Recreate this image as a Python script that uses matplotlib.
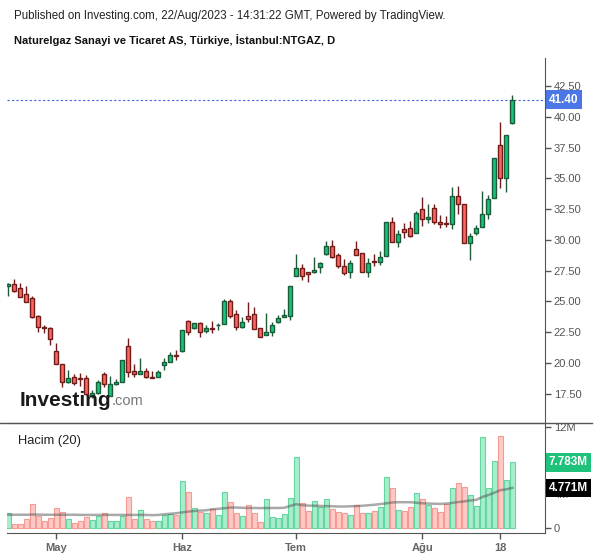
import matplotlib
matplotlib.use("Agg")
import matplotlib.pyplot as plt
from matplotlib.lines import Line2D

plt.rcParams['font.family'] = ['Liberation Sans', 'DejaVu Sans']

# daily candles, 18 Apr 2023 .. 22 Aug 2023 (trading days)
opens = [26.26, 26.42, 26.07, 25.61, 25.26, 23.82, 22.90, 22.82, 20.98, 19.89,
         18.48, 18.89, 18.76, 18.76, 17.32, 17.59, 19.08, 17.34, 18.27, 18.43,
         21.36, 19.35, 19.08, 19.35, 18.89, 18.84, 19.86, 20.08, 20.65, 20.95,
         23.39, 22.82, 23.23, 22.63, 22.82, 23.06, 23.15, 25.04, 23.96, 22.95,
         23.82, 23.98, 22.82, 22.25, 22.54, 23.31, 23.71, 23.85, 27.10, 27.70,
         27.37, 27.37, 27.83, 28.89, 29.49, 28.75, 27.91, 27.42, 29.24, 28.92,
         27.37, 28.29, 28.24, 28.72, 31.44, 29.81, 30.87, 30.95, 30.54, 32.50,
         31.68, 32.58, 31.49, 31.36, 31.28, 33.58, 32.93, 29.78, 30.59, 31.03,
         32.09, 33.39, 37.72, 35.00, 39.49]
highs = [26.53, 26.83, 26.48, 26.26, 25.45, 23.90, 23.09, 22.95, 21.65, 19.89,
         19.43, 19.11, 19.16, 19.02, 17.80, 18.62, 19.24, 18.94, 18.67, 20.24,
         22.03, 19.92, 20.38, 19.62, 19.38, 19.43, 20.38, 20.92, 21.06, 22.70,
         23.50, 23.28, 23.36, 23.09, 23.41, 23.23, 25.18, 25.18, 24.31, 23.77,
         24.96, 24.58, 22.82, 24.09, 23.36, 23.90, 24.39, 26.26, 28.86, 28.05,
         27.37, 28.59, 28.21, 29.94, 30.00, 28.92, 28.43, 28.37, 29.94, 28.92,
         28.51, 28.86, 29.11, 31.44, 31.85, 30.81, 31.36, 31.54, 32.36, 33.47,
         32.93, 32.93, 32.03, 31.95, 34.33, 34.41, 32.95, 30.54, 31.22, 33.98,
         33.66, 36.64, 39.59, 38.54, 41.79]
lows = [25.47, 25.80, 25.39, 24.95, 23.68, 22.54, 22.46, 21.46, 19.89, 18.02,
        18.35, 18.21, 18.13, 17.40, 17.15, 17.48, 18.07, 17.34, 18.21, 18.43,
        18.89, 18.84, 19.08, 18.76, 18.76, 18.84, 19.43, 20.08, 20.24, 20.90,
        22.28, 22.74, 22.14, 22.41, 22.46, 22.68, 23.15, 23.68, 22.68, 22.87,
        23.36, 22.79, 22.14, 22.25, 22.20, 23.23, 23.71, 23.50, 27.10, 26.75,
        26.61, 27.29, 27.34, 28.78, 28.51, 27.75, 27.15, 26.89, 28.75, 27.42,
        27.02, 27.91, 27.97, 28.72, 29.81, 29.46, 30.19, 30.27, 30.54, 31.16,
        31.36, 31.28, 30.95, 31.03, 30.89, 32.09, 29.78, 28.37, 30.41, 31.03,
        31.68, 33.39, 34.20, 33.93, 39.41]
closes = [26.42, 25.88, 25.39, 24.98, 23.76, 22.90, 22.82, 21.93, 19.89, 18.48,
          18.76, 18.40, 18.68, 17.48, 17.59, 18.43, 18.27, 18.27, 18.43, 20.24,
          19.24, 19.08, 19.35, 18.84, 18.81, 19.27, 20.08, 20.63, 20.57, 22.66,
          22.50, 23.23, 22.55, 22.82, 22.74, 23.11, 25.04, 23.85, 22.95, 23.31,
          23.61, 22.79, 22.14, 22.52, 23.09, 23.63, 23.90, 26.26, 27.70, 27.10,
          27.21, 27.56, 28.11, 29.49, 28.64, 27.91, 27.34, 28.11, 28.81, 27.42,
          28.11, 28.24, 28.59, 31.44, 29.81, 30.46, 30.67, 30.35, 32.17, 31.68,
          31.89, 31.44, 31.28, 31.28, 33.58, 32.90, 29.78, 30.33, 30.95, 32.09,
          33.33, 36.64, 35.00, 38.54, 41.40]
# volume in millions
volumes = [1.78, 0.55, 0.55, 1.07, 2.84, 1.42, 0.83, 1.19, 2.37, 1.89,
           1.07, 0.59, 0.83, 1.30, 0.95, 1.42, 1.78, 0.83, 0.83, 1.42,
           3.67, 1.07, 2.13, 1.07, 0.83, 0.83, 1.54, 1.66, 1.54, 5.57,
           4.27, 2.37, 1.93, 1.78, 2.25, 1.54, 4.27, 3.08, 1.78, 1.42,
           2.72, 1.78, 0.71, 3.44, 1.30, 1.19, 1.66, 3.56, 8.41, 2.96,
           2.01, 3.24, 2.49, 3.44, 2.25, 1.89, 1.78, 1.54, 2.72, 1.78,
           1.78, 2.01, 2.49, 6.04, 4.74, 2.13, 2.01, 2.49, 4.15, 3.44,
           2.72, 2.37, 1.89, 2.84, 4.74, 5.33, 4.86, 3.91, 2.61, 10.78,
           4.74, 7.94, 10.94, 5.72, 7.783]
# volume moving average (20)
vol_ma = [1.60, 1.60, 1.60, 1.60, 1.62, 1.62, 1.60, 1.60, 1.60, 1.60,
          1.60, 1.60, 1.58, 1.58, 1.58, 1.58, 1.58, 1.58, 1.58, 1.58,
          1.58, 1.58, 1.58, 1.58, 1.55, 1.58, 1.66, 1.72, 1.78, 1.88,
          1.97, 2.05, 2.09, 2.13, 2.25, 2.30, 2.37, 2.45, 2.45, 2.42,
          2.40, 2.40, 2.38, 2.40, 2.40, 2.40, 2.42, 2.65, 2.85, 2.72,
          2.68, 2.66, 2.64, 2.62, 2.60, 2.57, 2.57, 2.60, 2.62, 2.66,
          2.72, 2.78, 2.86, 2.95, 3.05, 3.08, 3.08, 3.08, 3.02, 2.95,
          2.92, 2.90, 2.88, 2.92, 3.00, 3.10, 3.18, 3.28, 3.36, 3.70,
          3.92, 4.20, 4.50, 4.60, 4.771]

tick_pos = [8, 29, 48, 69, 82]
tick_labels = ['May', 'Haz', 'Tem', 'Ağu', '18']
price_ticks = [17.5, 20.0, 22.5, 25.0, 27.5, 30.0, 32.5, 35.0, 37.5, 40.0, 42.5]
vol_ticks = [0, 4, 8, 12]
vol_tick_labels = ['0', '4M', '8M', '12M']

UP_FILL, UP_EDGE = '#17c27c', '#1c5a38'
DN_FILL, DN_EDGE = '#fa675e', '#701c1a'
VUP_FILL, VUP_EDGE = '#a8edcd', '#66d6a0'
VDN_FILL, VDN_EDGE = '#ffcac6', '#f59b94'
AXC = '#555555'

W, H = 600, 558
fig = plt.figure(figsize=(W / 100, H / 100), dpi=100)
x0, x1 = 7 / W, 545.3 / W
ax = fig.add_axes([x0, (H - 422.5) / H, x1 - x0, (422.5 - 58.3) / H])
axv = fig.add_axes([x0, (H - 533.3) / H, x1 - x0, (533.3 - 422.5) / H])

idx = list(range(len(closes)))
up = [c >= o for o, c in zip(opens, closes)]

# candles
for i in idx:
    o, h, l, c = opens[i], highs[i], lows[i], closes[i]
    edge = UP_EDGE if up[i] else DN_EDGE
    fill = UP_FILL if up[i] else DN_FILL
    ax.vlines(i, l, h, color=edge, lw=1.0, zorder=2)
    bot = min(o, c)
    hgt = max(abs(c - o), 0.06)
    ax.bar(i, hgt, bottom=bot, width=0.7, color=fill, edgecolor=edge, lw=1.0, zorder=3)

ax.set_xlim(-0.22, 89.5)
ax.set_ylim(15.16, 44.77)
ax.set_yticks(price_ticks)
ax.set_yticklabels(['%.2f' % v for v in price_ticks])
ax.yaxis.tick_right()
ax.set_xticks([])
for s in ['top', 'left', 'bottom']:
    ax.spines[s].set_visible(False)
ax.spines['right'].set_color(AXC)
ax.tick_params(axis='y', colors=AXC, labelcolor=AXC, length=4, width=1, labelsize=8, pad=2)

# last price line + label
last = closes[-1]
ax.axhline(last, color='#3d62d8', lw=0.8, ls=(0, (2, 2)), zorder=1)
ax.annotate('%.2f' % last, xy=(1.0, last), xycoords=ax.get_yaxis_transform(),
            xytext=(2.6, 0), textcoords='offset points', ha='left', va='center',
            color='white', fontweight='bold', fontsize=8.5, annotation_clip=False,
            bbox=dict(boxstyle='square,pad=0.28', fc='#4a76e6', ec='none'))

# volume
for i in idx:
    axv.bar(i, volumes[i], width=0.88,
            color=VUP_FILL if up[i] else VDN_FILL,
            edgecolor=VUP_EDGE if up[i] else VDN_EDGE, lw=0.8, zorder=2)
axv.plot(idx, vol_ma, color='#555555', alpha=0.5, lw=1.8, zorder=3)
axv.set_xlim(-0.22, 89.5)
axv.set_ylim(-0.59, 12.49)
axv.set_yticks(vol_ticks)
axv.set_yticklabels(vol_tick_labels)
axv.yaxis.tick_right()
axv.set_xticks(tick_pos)
axv.set_xticklabels(tick_labels)
axv.spines['left'].set_visible(False)
for s in ['right', 'bottom', 'top']:
    axv.spines[s].set_color(AXC)
axv.tick_params(axis='y', colors=AXC, labelcolor=AXC, length=4, width=1, labelsize=8, pad=2)
axv.tick_params(axis='x', colors=AXC, labelcolor='#666666', length=4, width=1, labelsize=8, pad=3)
for t in axv.get_xticklabels():
    t.set_fontweight('bold')
axv.text(0.02, 0.83, 'Hacim (20)', transform=axv.transAxes, fontsize=9.3, color='#222222',
         ha='left', va='center')

axv.annotate('%.3fM' % volumes[-1], xy=(1.0, volumes[-1]), xycoords=axv.get_yaxis_transform(),
             xytext=(2.6, 0), textcoords='offset points', ha='left', va='center',
             color='white', fontweight='bold', fontsize=8.5, annotation_clip=False,
             bbox=dict(boxstyle='square,pad=0.28', fc='#1ec27a', ec='none'))
axv.annotate('%.3fM' % vol_ma[-1], xy=(1.0, vol_ma[-1]), xycoords=axv.get_yaxis_transform(),
             xytext=(2.6, 0), textcoords='offset points', ha='left', va='center',
             color='white', fontweight='bold', fontsize=8.5, annotation_clip=False,
             bbox=dict(boxstyle='square,pad=0.28', fc='#000000', ec='none'))

# separator line across the figure
fig.add_artist(Line2D([0, 592 / W], [(H - 422.5) / H] * 2, color=AXC, lw=1))

# header
fig.text(14 / W, 1 - 16.5 / H, 'Published on Investing.com, 22/Aug/2023 - 14:31:22 GMT, Powered by TradingView.',
         fontsize=8.3, color='#222222', ha='left', va='center')
fig.text(14 / W, 1 - 40.5 / H, 'Naturelgaz Sanayi ve Ticaret AS, Türkiye, İstanbul:NTGAZ, D',
         fontsize=8.05, fontweight='bold', color='#111111', ha='left', va='center')

# watermark
logo = fig.text(20 / W, 1 - 406.5 / H, 'Investing', fontsize=15, fontweight='bold',
                color='#1a1a1a', ha='left', va='baseline')
fig.canvas.draw()
ax.annotate('.com', xy=(1, 0.14), xycoords=logo, fontsize=10.5, color='#777777',
            ha='left', va='bottom', annotation_clip=False)

fig.savefig('out.png', dpi=100)
